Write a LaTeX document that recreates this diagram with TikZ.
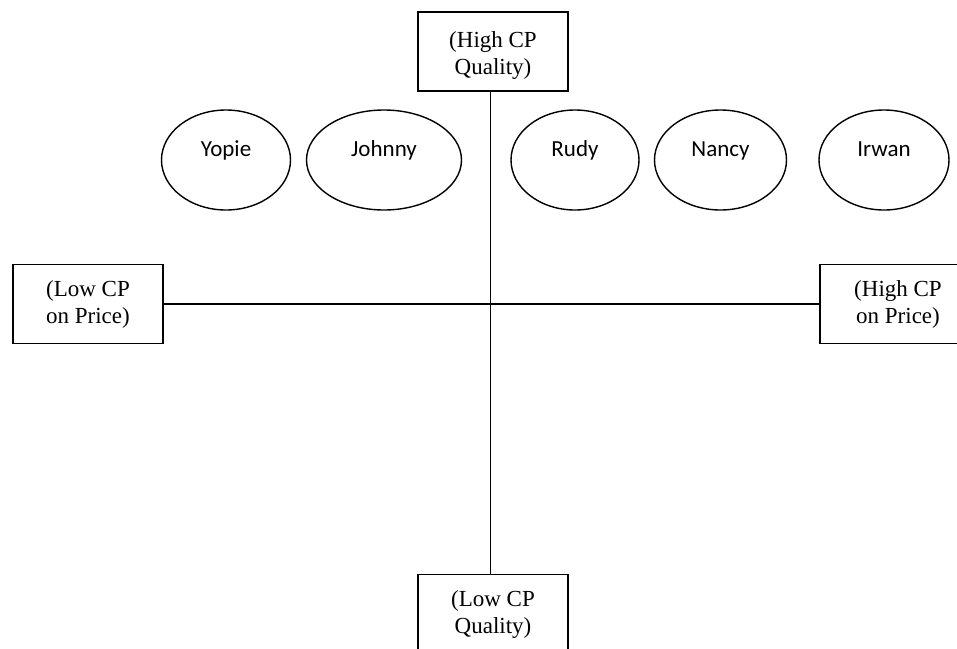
\documentclass[tikz,border=0pt]{standalone}
\usepackage{fontspec}
\setmainfont{Liberation Serif}
\newfontfamily\calib{Carlito}
\usetikzlibrary{shapes.geometric}
\begin{document}
\begin{tikzpicture}[x=1pt,y=-1pt,
  axisbox/.style={draw,line width=1.5pt,rectangle,minimum width=150pt,minimum height=79pt,
    inner sep=0pt,align=center,font=\fontsize{23}{27}\selectfont},
  person/.style={draw,line width=1.4pt,ellipse,minimum height=100pt,inner sep=0pt,
    font=\calib\fontsize{23}{27}\selectfont,text height=10pt,text depth=16.6pt},
  axis/.style={line width=1.8pt}]
\useasboundingbox (0,0) rectangle (957,648);
\node[axisbox] (top) at (493,51.5) {\rule{0pt}{24pt}(High CP\\Quality)};
\node[axisbox] (bot) at (493,614) {(Low CP\\Quality)};
\node[axisbox] (left) at (88,304) {(Low CP\\on Price)};
\node[axisbox,minimum width=156pt] (right) at (898,304) {(High CP\\on Price)};
\coordinate (c) at (490.5,304);
\draw[axis] (left.east) -- (right.west);
\draw[axis] (top.south -| c) -- (bot.north -| c);
\node[person,minimum width=129pt] (yopie) at (226,160) {Yopie};
\node[person,minimum width=155pt] (johnny) at (384,160) {Johnny};
\node[person,minimum width=128pt] (rudy) at (575,160) {Rudy};
\node[person,minimum width=132pt] (nancy) at (720.5,160) {Nancy};
\node[person,minimum width=130pt] (irwan) at (884,160) {Irwan};
\end{tikzpicture}
\end{document}
